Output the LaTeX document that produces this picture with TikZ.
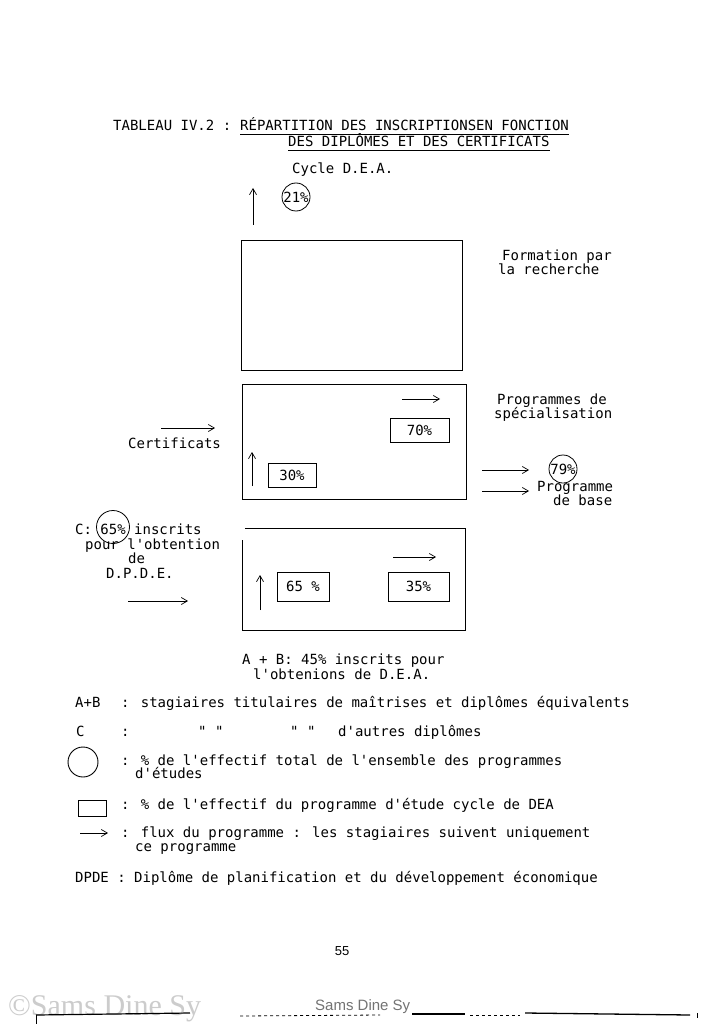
\documentclass[tikz,border=0pt]{standalone}
\usepackage{fontspec}
\newfontfamily\tw{DejaVu Sans Mono}
\newfontfamily\wmserif{Liberation Serif}
\newfontfamily\wmsans{Liberation Sans}
\usetikzlibrary{arrows.meta}
\begin{document}
\begin{tikzpicture}[x=1pt,y=-1pt,
  txt/.style={font=\tw\fontsize{14}{16}\selectfont, inner sep=0pt, anchor=base west},
  ctxt/.style={font=\tw\fontsize{14}{16}\selectfont, inner sep=0pt, anchor=base},
  bigbox/.style={draw, line width=0.8pt, inner sep=0pt},
  pbox/.style={draw, line width=0.8pt, inner sep=0pt, font=\tw\fontsize{14}{16}\selectfont},
  circ/.style={draw, circle, line width=0.8pt, inner sep=0pt, minimum size=28pt, font=\tw\fontsize{14}{16}\selectfont},
  flow/.style={-{Straight Barb[length=6pt,width=7pt,line width=0.7pt]}, line width=0.7pt}
]
\fill[white] (0,0) rectangle (721,1024);
\useasboundingbox (0,0) rectangle (721,1024);

% Title
\node[txt] (t1a) at (113,131) {TABLEAU IV.2 :};
\node[txt] (t1b) at (240,131) {RÉPARTITION DES INSCRIPTIONSEN FONCTION};
\node[txt] (t2) at (288,147) {DES DIPLÔMES ET DES CERTIFICATS};
\draw[line width=0.7pt] ([yshift=-3pt]t1b.base west) -- ([yshift=-3pt]t1b.base east);
\draw[line width=0.7pt] ([yshift=-3pt]t2.base west) -- ([yshift=-3pt]t2.base east);

% Cycle DEA
\node[txt] (cyc) at (292,174) {Cycle D.E.A.};
\node[circ] (c21) at (296,197) {21\%};
\coordinate (u1s) at (253,225);
\coordinate (u1e) at (253,188);
\draw[flow] (u1s) -- (u1e);

% Box A : formation par la recherche
\node[bigbox, minimum width=221pt, minimum height=130pt] (boxA) at (351.5,305) {};
\node[txt] (fr1) at (502,260) {Formation par};
\node[txt] (fr2) at (498,274) {la recherche};

% Box B : programmes de specialisation
\node[bigbox, minimum width=224pt, minimum height=115pt] (boxB) at (354,441.5) {};
\node[txt] (ps1) at (497,404) {Programmes de};
\node[txt] (ps2) at (494,418) {spécialisation};
\coordinate (b2s) at (402,399);
\coordinate (b2e) at (440,399);
\draw[flow] (b2s) -- (b2e);
\node[pbox, minimum width=59pt, minimum height=24pt] (p70) at (419.5,430) {70\%};
\node[pbox, minimum width=48pt, minimum height=24pt] (p30) at (292,475) {30\%};
\coordinate (u2s) at (252,486);
\coordinate (u2e) at (252,452);
\draw[flow] (u2s) -- (u2e);
\coordinate (cs) at (161,428);
\coordinate (ce) at (215,428);
\draw[flow] (cs) -- (ce);
\node[txt] (cert) at (128,448) {Certificats};
\coordinate (r1s) at (482,470);
\coordinate (r1e) at (529,470);
\draw[flow] (r1s) -- (r1e);
\coordinate (r2s) at (482,491);
\coordinate (r2e) at (529,491);
\draw[flow] (r2s) -- (r2e);
\node[circ] (c79) at (563,469) {79\%};
\node[txt] (pb1) at (537,491) {Programme};
\node[txt] (pb2) at (553,505) {de base};

% Box C
\node[minimum width=222pt, minimum height=101pt, inner sep=0pt] (boxC) at (354,579.5) {};
\draw[line width=0.8pt] ([xshift=2pt]boxC.north west) -- (boxC.north east) -- (boxC.south east) -- (boxC.south west) -- ++(0,-90);
\coordinate (b3s) at (393,557);
\coordinate (b3e) at (436,557);
\draw[flow] (b3s) -- (b3e);
\node[pbox, minimum width=52pt, minimum height=29pt] (p65) at (303,586.5) {65 \%};
\node[pbox, minimum width=61pt, minimum height=29pt] (p35) at (418.5,586.5) {35\%};
\coordinate (u3s) at (260,610);
\coordinate (u3e) at (260,575);
\draw[flow] (u3s) -- (u3e);

% C label
\node[txt] (cl1) at (75,534) {C: 65\% inscrits};
\node[draw, circle, line width=0.8pt, minimum size=33pt, inner sep=0pt] (c65) at (113,527) {};
\node[txt] (cl2) at (85,549) {pour l'obtention};
\node[txt] (cl3) at (128,563) {de};
\node[txt] (cl4) at (106,578) {D.P.D.E.};
\coordinate (cas) at (128,601);
\coordinate (cae) at (188,601);
\draw[flow] (cas) -- (cae);

% A + B
\node[txt] (ab1) at (242,664) {A + B: 45\% inscrits pour};
\node[txt] (ab2) at (253,679) {l'obtenions de D.E.A.};

% Legend
\node[txt] (l1a) at (75,707) {A+B};
\node[txt] (l1b) at (121,707) {: stagiaires titulaires de maîtrises et diplômes équivalents};
\node[txt] (l2a) at (76,736) {C};
\node[txt] (l2b) at (121,736) {:};
\node[txt] (l2c) at (198,736) {" "};
\node[txt] (l2d) at (290,736) {" "};
\node[txt] (l2e) at (338,736) {d'autres diplômes};
\node[draw, circle, line width=0.9pt, minimum size=30pt, inner sep=0pt] (lc) at (83,762) {};
\node[txt] (l3a) at (121,765) {: \% de l'effectif total de l'ensemble des programmes};
\node[txt] (l3b) at (135,778) {d'études};
\node[draw, line width=0.9pt, minimum width=28pt, minimum height=16pt, inner sep=0pt] (lr) at (92,808) {};
\node[txt] (l4) at (121,809) {: \% de l'effectif du programme d'étude cycle de DEA};
\coordinate (las) at (80,833);
\coordinate (lae) at (108,833);
\draw[flow] (las) -- (lae);
\node[txt] (l5a) at (121,837) {: flux du programme : les stagiaires suivent uniquement};
\node[txt] (l5b) at (135,851) {ce programme};
\node[txt] (l6) at (75,882) {DPDE : Diplôme de planification et du développement économique};

% Page number
\node[font=\wmsans\fontsize{13}{15}\selectfont, inner sep=0pt, anchor=base] (pg) at (342,955) {55};

% Footer
\node[font=\wmserif\fontsize{30}{32}\selectfont, text=black!20, inner sep=0pt, anchor=base west] (wm) at (8,1015) {©Sams Dine Sy};
\node[font=\wmsans\fontsize{15}{17}\selectfont, text=black!55, inner sep=0pt, anchor=base west] (wm2) at (315,1010) {Sams Dine Sy};
\draw[line width=1.2pt] (36,1015) -- (190,1013);
\draw[line width=1pt] (36,1015) -- (36,1024);
\draw[line width=0.8pt, dashed] (240,1016) -- (380,1015);
\draw[line width=1.2pt] (412,1014) -- (465,1014);
\draw[line width=0.8pt, dashed] (470,1015) -- (520,1015);
\draw[line width=1.3pt] (525,1013) -- (690,1015);
\draw[line width=1pt] (697,1013) -- (697,1018);
\end{tikzpicture}
\end{document}
